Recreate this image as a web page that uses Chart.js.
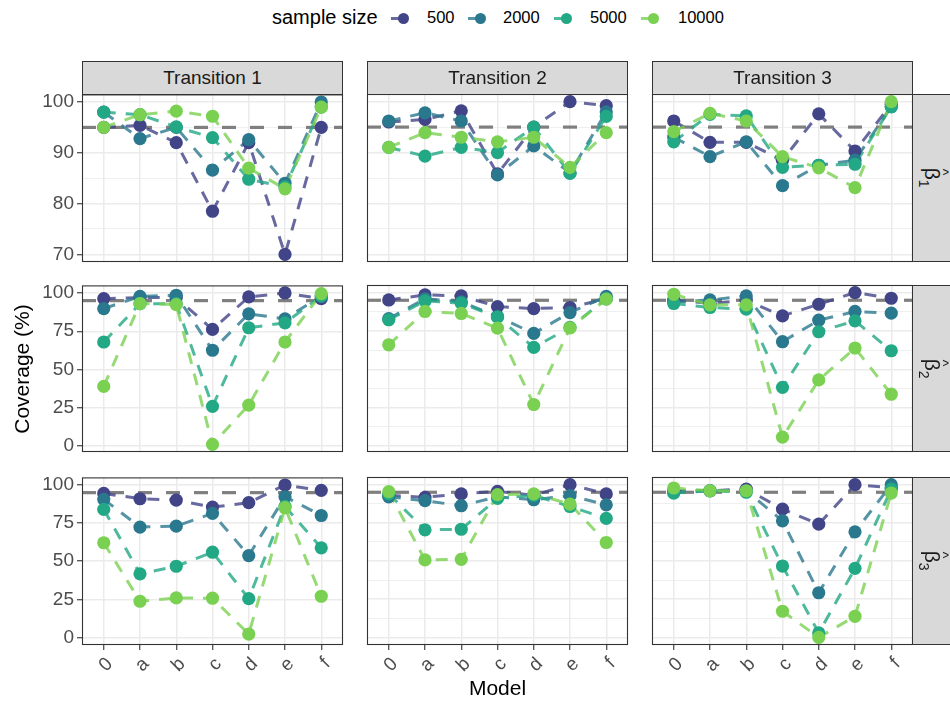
<!DOCTYPE html>
<html>
<head>
<meta charset="utf-8">
<script src="https://cdn.jsdelivr.net/npm/chart.js@4.4.1/dist/chart.umd.min.js"></script>
<style>
  html, body { margin: 0; padding: 0; background: #ffffff; }
  #fig { position: relative; width: 950px; height: 702px; overflow: hidden;
         font-family: "Liberation Sans", Arial, sans-serif; }
  .abs { position: absolute; }
  .strip { position: absolute; box-sizing: border-box; background: #D9D9D9;
           border: 1px solid #333333; color: #1A1A1A; font-size: 19px;
           display: flex; align-items: center; justify-content: center; }
  .rot { transform: rotate(90deg) translateY(2px); white-space: nowrap; font-size: 21px; }
  .beta { position: relative; display: inline-block; }
  .hat { position: absolute; left: 1px; top: -7px; font-size: 14px; }
  .legend-text { position: absolute; color: #000; white-space: nowrap; }
</style>
</head>
<body>
<div id="fig"></div>
<script>
const categories = ['0', 'a', 'b', 'c', 'd', 'e', 'f'];
const sampleSizes = ['500', '2000', '5000', '10000'];
const transitions = ['Transition 1', 'Transition 2', 'Transition 3'];
const estimands = ['1', '2', '3'];
const seriesColors = ['#414487', '#2A788E', '#22A884', '#7AD151'];
const nominalCoverage = 95;

// tick labels per row
const yTicksBeta1 = [70, 80, 90, 100];
const yTicksBeta23 = [0, 25, 50, 75, 100];

// beta 1
const b1_t1_n500 = [95, 95.4, 92, 78.5, 92, 70, 95];
const b1_t1_n2000 = [98, 92.8, 95, 86.6, 92.6, 84, 100];
const b1_t1_n5000 = [98, 97.5, 95.1, 93, 84.8, 83.3, 99];
const b1_t1_n10000 = [95, 97.5, 98.2, 97.2, 87, 82.9, 99];

const b1_t2_n500 = [96, 96.5, 98.2, 85.8, 95, 100, 99.2];
const b1_t2_n2000 = [96.2, 97.8, 96.2, 85.6, 91.3, 86, 98];
const b1_t2_n5000 = [91, 89.3, 91, 90, 95, 85.9, 97.1];
const b1_t2_n10000 = [91, 93.9, 93, 92.1, 93, 87.1, 93.9];

const b1_t3_n500 = [96.2, 92, 92, 88.5, 97.6, 90.3, 99.5];
const b1_t3_n2000 = [93, 89.2, 92.1, 83.5, 87.5, 88.5, 99];
const b1_t3_n5000 = [92.1, 97.5, 97.2, 87.1, 87.5, 87.7, 99];
const b1_t3_n10000 = [94.1, 97.7, 96.2, 89.2, 87, 83.1, 100];

// beta 2
const b2_t1_n500 = [96.3, 97, 97, 76.2, 97.4, 100, 96.3];
const b2_t1_n2000 = [89.8, 97.8, 98.5, 62.6, 86.4, 83.1, 98];
const b2_t1_n5000 = [68, 93, 93, 26, 77.3, 80.5, 98];
const b2_t1_n10000 = [39, 93.1, 92.4, 1.1, 26.8, 68, 99.6];

const b2_t2_n500 = [95.2, 98.5, 97.8, 90.9, 89.6, 90.3, 96];
const b2_t2_n2000 = [83, 96, 94, 84.4, 73.4, 87, 97.5];
const b2_t2_n5000 = [82.3, 94.6, 93.1, 84, 64.3, 77.3, 96];
const b2_t2_n10000 = [66, 87.7, 86.4, 76.8, 27.1, 77, 95.7];

const b2_t3_n500 = [95, 93, 95, 84.8, 92.4, 100, 96.3];
const b2_t3_n2000 = [94, 95.2, 97.8, 68, 82, 87.7, 86.6];
const b2_t3_n5000 = [92.9, 90.3, 89.2, 38.3, 74.5, 81.6, 62.1];
const b2_t3_n10000 = [98.9, 92, 92, 5.8, 43.1, 63.9, 33.8];

// beta 3
const b3_t1_n500 = [94.5, 91, 90.1, 85.5, 88.4, 100, 96.5];
const b3_t1_n2000 = [90.6, 72.4, 73, 81.4, 53.7, 92.3, 80];
const b3_t1_n5000 = [84, 41.7, 46.7, 55.9, 25.4, 86, 58.8];
const b3_t1_n10000 = [62.1, 23.7, 25.9, 25.7, 2.2, 85.1, 27];

const b3_t2_n500 = [93, 91.7, 93.9, 95.6, 93, 100, 93.9];
const b3_t2_n2000 = [92, 89.5, 86.2, 92, 90.1, 92.8, 86.8];
const b3_t2_n5000 = [94, 70.4, 70.8, 91, 93, 85.7, 77.9];
const b3_t2_n10000 = [95.4, 50.7, 51.1, 93.5, 93.9, 87.3, 62.1];

const b3_t3_n500 = [96, 96, 97.1, 84, 74.1, 100, 98];
const b3_t3_n2000 = [95, 96, 96, 76.3, 29.2, 69.1, 100];
const b3_t3_n5000 = [94.5, 96, 95, 46.7, 2.9, 45.2, 97];
const b3_t3_n10000 = [97.8, 96, 96, 17.1, 0, 13.8, 94.5];

const panelRows = [
  [[b1_t1_n500, b1_t1_n2000, b1_t1_n5000, b1_t1_n10000],
   [b1_t2_n500, b1_t2_n2000, b1_t2_n5000, b1_t2_n10000],
   [b1_t3_n500, b1_t3_n2000, b1_t3_n5000, b1_t3_n10000]],
  [[b2_t1_n500, b2_t1_n2000, b2_t1_n5000, b2_t1_n10000],
   [b2_t2_n500, b2_t2_n2000, b2_t2_n5000, b2_t2_n10000],
   [b2_t3_n500, b2_t3_n2000, b2_t3_n5000, b2_t3_n10000]],
  [[b3_t1_n500, b3_t1_n2000, b3_t1_n5000, b3_t1_n10000],
   [b3_t2_n500, b3_t2_n2000, b3_t2_n5000, b3_t2_n10000],
   [b3_t3_n500, b3_t3_n2000, b3_t3_n5000, b3_t3_n10000]],
];
const rowTicks = [yTicksBeta1, yTicksBeta23, yTicksBeta23];

// layout of the facet grid (page pixels)
const colLeft = [82, 367, 652];
const panelW = 261;
const rowTop = [94, 285, 477];
const rowBottom = [262, 452, 645];
const PAD = { top: 14, right: 14, bottom: 4, left: 4 };
const Y_W = 64;
const X_H = 50;

const fig = document.getElementById('fig');
Chart.defaults.font.family = '"Liberation Sans", Arial, sans-serif';

function withAlpha(hex, a) {
  const n = parseInt(hex.slice(1), 16);
  return `rgba(${(n >> 16) & 255},${(n >> 8) & 255},${n & 255},${a})`;
}

const panelFrame = {
  id: 'panelFrame',
  afterDraw(chart) {
    const { ctx, chartArea: a } = chart;
    ctx.save();
    ctx.strokeStyle = '#333333';
    ctx.lineWidth = 1.1;
    ctx.strokeRect(a.left + 0.5, a.top + 0.5, a.right - a.left - 1, a.bottom - a.top - 1);
    ctx.restore();
  },
};

function rowRange(row) {
  const all = panelRows[row].flat(2);
  const lo = Math.min(...all);
  const hi = Math.max(...all);
  const pad = (hi - lo) * 0.05;
  return [lo - pad, hi + pad];
}

function addPanel(row, col) {
  const showY = col === 0;
  const showX = row === panelRows.length - 1;
  const left = colLeft[col];
  const top = rowTop[row];
  const h = rowBottom[row] - top;
  const cw = panelW + PAD.left + Y_W + PAD.right;
  const ch = h + PAD.top + PAD.bottom + X_H;

  const box = document.createElement('div');
  box.className = 'abs';
  box.style.left = (left - PAD.left - Y_W) + 'px';
  box.style.top = (top - PAD.top) + 'px';
  const canvas = document.createElement('canvas');
  canvas.width = cw;
  canvas.height = ch;
  canvas.style.width = cw + 'px';
  canvas.style.height = ch + 'px';
  box.appendChild(canvas);
  fig.appendChild(box);

  const majors = rowTicks[row];
  const minors = majors.slice(1).map((v, i) => (v + majors[i]) / 2);
  const [yMin, yMax] = rowRange(row);

  const datasets = [{
    data: [{ x: -0.6, y: nominalCoverage }, { x: 6.6, y: nominalCoverage }],
    borderColor: '#7F7F7F',
    borderWidth: 3.2,
    borderDash: [14, 14],
    pointRadius: 0,
    order: 30,
  }];
  panelRows[row][col].forEach((vals, k) => {
    datasets.push({
      data: vals.map((v, i) => ({ x: i, y: v })),
      borderColor: withAlpha(seriesColors[k], 0.8),
      borderWidth: 3,
      borderDash: [12, 10],
      pointRadius: 0,
      order: 20 - k,
    });
    datasets.push({
      data: vals.map((v, i) => ({ x: i, y: v })),
      showLine: false,
      pointRadius: 6.6,
      pointBackgroundColor: seriesColors[k],
      pointBorderWidth: 0,
      order: 10 - k,
    });
  });

  const tickFont = { size: 19 };
  new Chart(canvas, {
    type: 'line',
    data: { datasets },
    plugins: [panelFrame],
    options: {
      responsive: false,
      animation: false,
      devicePixelRatio: 1,
      events: [],
      layout: { padding: PAD },
      plugins: { legend: { display: false }, tooltip: { enabled: false } },
      scales: {
        x: {
          type: 'linear',
          min: -0.6,
          max: 6.6,
          afterBuildTicks: (s) => { s.ticks = categories.map((c, i) => ({ value: i })); },
          afterFit: (s) => { s.height = X_H; },
          ticks: {
            display: showX,
            autoSkip: false,
            minRotation: 45,
            maxRotation: 45,
            color: '#4D4D4D',
            font: tickFont,
            padding: 3,
            labelOffset: 6,
            callback: (v) => categories[v] ?? '',
          },
          grid: {
            color: '#EBEBEB',
            lineWidth: 1.5,
            tickLength: 5,
            tickWidth: 1.1,
            tickColor: showX ? '#333333' : 'rgba(0,0,0,0)',
          },
          border: { display: false },
        },
        y: {
          type: 'linear',
          min: yMin,
          max: yMax,
          afterBuildTicks: (s) => {
            s.ticks = majors.concat(minors).sort((a, b) => a - b).map((v) => ({ value: v }));
          },
          afterFit: (s) => { s.width = Y_W; },
          ticks: {
            display: showY,
            color: '#4D4D4D',
            font: tickFont,
            padding: 3,
            callback: (v) => (majors.includes(v) ? String(v) : ''),
          },
          grid: {
            color: '#EBEBEB',
            lineWidth: (ctx) => (majors.includes(ctx.tick.value) ? 1.5 : 0.8),
            tickLength: 5,
            tickWidth: 1.1,
            tickColor: (ctx) => (showY && majors.includes(ctx.tick.value) ? '#333333' : 'rgba(0,0,0,0)'),
          },
          border: { display: false },
        },
      },
    },
  });
}

panelRows.forEach((r, row) => r.forEach((p, col) => addPanel(row, col)));

// facet strips
transitions.forEach((name, col) => {
  const s = document.createElement('div');
  s.className = 'strip';
  s.style.left = colLeft[col] + 'px';
  s.style.top = '61px';
  s.style.width = panelW + 'px';
  s.style.height = (rowTop[0] - 61 + 1) + 'px';
  s.textContent = name;
  fig.appendChild(s);
});
estimands.forEach((sub, row) => {
  const s = document.createElement('div');
  s.className = 'strip';
  s.style.left = (colLeft[2] + panelW - 1) + 'px';
  s.style.top = rowTop[row] + 'px';
  s.style.width = '40px';
  s.style.height = (rowBottom[row] - rowTop[row]) + 'px';
  s.innerHTML = `<span class="rot"><span class="beta">\u03B2<span class="hat">^</span></span><sub style="font-size:14px">${sub}</sub></span>`;
  fig.appendChild(s);
});

// axis titles
const xTitle = document.createElement('div');
xTitle.className = 'abs';
xTitle.style.cssText = 'left:82px;width:831px;top:676px;text-align:center;font-size:21px;color:#000;';
xTitle.textContent = 'Model';
fig.appendChild(xTitle);

const yTitle = document.createElement('div');
yTitle.className = 'abs';
yTitle.style.cssText = 'left:-178px;width:400px;top:357px;text-align:center;font-size:21px;color:#000;transform:rotate(-90deg);';
yTitle.textContent = 'Coverage (%)';
fig.appendChild(yTitle);

// legend
const legendTitle = document.createElement('div');
legendTitle.className = 'legend-text';
legendTitle.style.cssText += 'left:272px;top:6px;font-size:20px;';
legendTitle.textContent = 'sample size';
fig.appendChild(legendTitle);

const keyX = [403, 480, 566, 653];
const labelX = [427, 503, 590, 678];
sampleSizes.forEach((n, k) => {
  const line = document.createElement('div');
  line.className = 'abs';
  line.style.cssText = `left:${keyX[k] - 12}px;top:17px;width:10px;height:2.5px;background:${withAlpha(seriesColors[k], 0.8)};`;
  fig.appendChild(line);
  const dot = document.createElement('div');
  dot.className = 'abs';
  dot.style.cssText = `left:${keyX[k] - 5.5}px;top:12.8px;width:11px;height:11px;border-radius:50%;background:${seriesColors[k]};`;
  fig.appendChild(dot);
  const lab = document.createElement('div');
  lab.className = 'legend-text';
  lab.style.cssText += `left:${labelX[k]}px;top:8px;font-size:16.5px;`;
  lab.textContent = n;
  fig.appendChild(lab);
});
</script>
</body>
</html>
